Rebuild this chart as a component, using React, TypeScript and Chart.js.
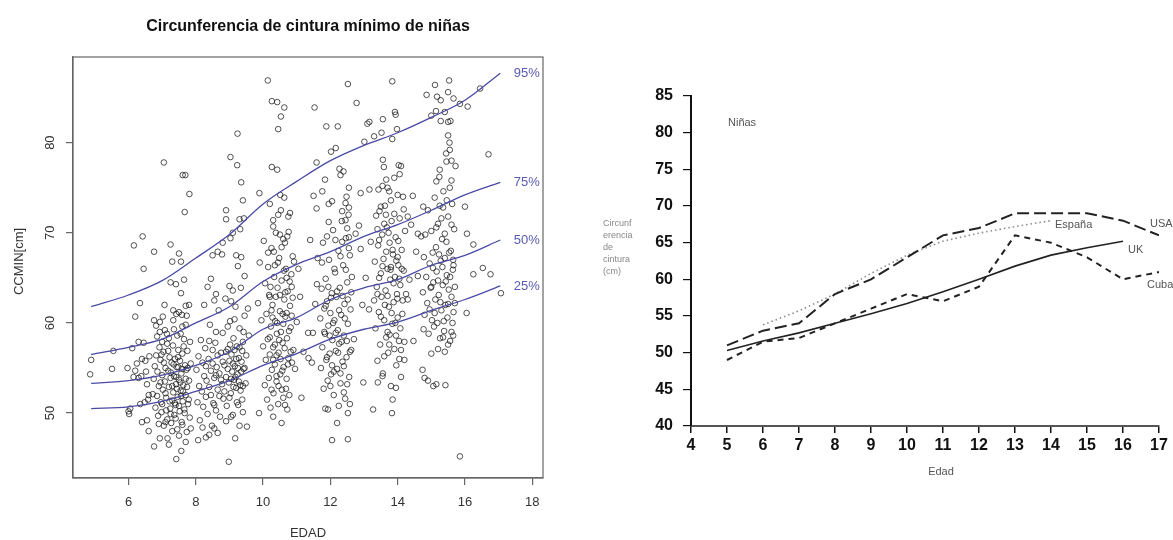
import React, { useEffect, useRef } from "react";
import { Chart, registerables } from "chart.js";

Chart.register(...registerables);

const FONT = '"Liberation Sans", Arial, Helvetica, sans-serif';

// ---------------- Left chart data ----------------
const leftTitle = "Circunferencia de cintura mínimo de niñas";
const leftXLabel = "EDAD";
const leftYLabel = "CCMIN[cm]";
const leftYTicks = [50, 60, 70, 80];

const curveAges = [4.89, 6, 7, 8, 9, 10, 11, 12, 13, 14, 15, 16, 17.05];
const p95 = [61.8, 63.1, 64.7, 67.2, 69.8, 73.2, 75.7, 78.0, 79.7, 81.1, 82.8, 84.7, 87.7];
const p75 = [56.5, 57.3, 58.2, 60.0, 61.8, 64.6, 66.5, 67.9, 69.6, 70.9, 72.5, 74.2, 75.6];
const p50 = [53.3, 53.6, 54.2, 55.3, 56.8, 59.3, 60.6, 62.6, 63.9, 64.8, 66.4, 67.5, 69.2];
const p25 = [50.5, 50.7, 51.3, 52.4, 53.6, 55.3, 56.6, 58.2, 59.3, 60.1, 61.4, 62.6, 64.1];
const percentileNames = ["95%", "75%", "50%", "25%"];

const ptsAge6 = [
  [4.89, 55.9], [4.86, 54.3], [5.51, 54.9], [5.55, 56.9], [5.97, 55.0], [6.0, 50.2], [6.02, 49.9], [6.05, 50.5],
  [6.11, 57.2], [6.16, 68.6], [6.2, 60.7], [6.34, 62.2], [6.42, 69.6], [6.45, 66.0], [6.2, 54.7], [6.25, 55.5],
  [6.3, 53.9], [6.38, 54.1], [6.4, 56.0], [6.45, 57.8], [6.5, 55.8], [6.55, 53.2], [6.6, 52.0], [6.48, 51.2],
  [6.35, 51.0], [6.4, 49.0], [6.55, 49.2], [6.6, 48.0], [6.3, 57.9], [6.58, 51.5], [6.52, 54.6], [6.62, 56.3],
  [6.15, 54.0],
];

const ptsAge7 = [
  [6.72, 52.1], [6.75, 53.8], [6.78, 55.2], [6.8, 50.6], [6.82, 56.4], [6.85, 51.9], [6.86, 54.6], [6.88, 49.7],
  [6.9, 53.0], [6.92, 57.3], [6.95, 55.9], [6.96, 51.2], [6.98, 50.1], [7.0, 54.2], [7.02, 52.6], [7.04, 56.8],
  [7.05, 48.6], [7.08, 53.5], [7.1, 55.0], [7.12, 51.7], [7.14, 58.8], [7.15, 49.3], [7.18, 54.7], [7.2, 52.9],
  [7.22, 56.2], [7.24, 50.5], [7.25, 53.9], [7.27, 48.9], [7.28, 55.6], [7.3, 51.4], [7.32, 57.5], [7.33, 52.3],
  [7.35, 54.1], [7.36, 49.8], [7.38, 56.0], [7.4, 50.9], [7.41, 53.2], [7.43, 55.1], [7.45, 48.2], [7.46, 51.8],
  [7.48, 57.0], [7.5, 53.7], [7.52, 50.2], [7.53, 55.8], [7.55, 52.5], [7.57, 54.4], [7.58, 49.0], [7.6, 56.6],
  [7.61, 51.3], [7.63, 53.1], [7.65, 58.2], [7.66, 50.4], [7.68, 55.3], [7.7, 52.0], [7.72, 54.8], [7.73, 47.9],
  [7.75, 56.9], [7.77, 51.0], [7.8, 53.6], [7.82, 49.5], [7.85, 55.5],
  [6.95, 53.4], [7.0, 51.0], [7.05, 55.6], [7.1, 52.2], [7.12, 50.3], [7.18, 56.9], [7.22, 51.3], [7.26, 54.5],
  [7.3, 53.0], [7.34, 55.4], [7.38, 51.1], [7.42, 54.0], [7.44, 52.7], [7.47, 56.2], [7.5, 50.8], [7.54, 53.4],
  [7.56, 51.9], [7.6, 54.9], [7.62, 52.4], [7.64, 57.4], [7.67, 50.0], [7.7, 53.8], [7.74, 52.9], [7.76, 55.0],
  [7.79, 51.5], [7.83, 57.9], [7.35, 59.3], [7.55, 58.8], [7.15, 57.7], [7.7, 59.8], [7.0, 57.9], [7.4, 49.4],
  [7.6, 48.7], [7.25, 49.9], [6.98, 56.5], [7.48, 55.1],
  [6.76, 60.3], [6.82, 59.7], [6.93, 60.1], [7.02, 60.7], [7.07, 62.0], [6.93, 59.0], [7.08, 59.2], [7.33, 61.4],
  [7.42, 61.0], [7.5, 61.2], [7.59, 60.9], [7.73, 60.8], [7.33, 60.3], [7.25, 64.5], [7.41, 64.3], [7.56, 63.3],
  [7.7, 61.9], [7.25, 68.7], [7.3, 66.8], [7.5, 67.7], [7.56, 66.8], [6.76, 67.9], [7.05, 77.8], [7.61, 76.4],
  [7.69, 76.4], [7.67, 72.3], [7.81, 74.3], [7.2, 58.3], [7.6, 59.6], [7.45, 58.6], [7.8, 62.0], [6.85, 58.5],
  [7.65, 64.8],
  [6.76, 46.3], [6.93, 47.2], [7.16, 47.2], [7.42, 44.9], [7.57, 45.8], [7.1, 49.0], [7.3, 48.0], [7.5, 47.5],
  [7.7, 46.8], [7.85, 48.3], [6.9, 48.8], [7.2, 46.5],
];

const ptsAge9 = [
  [8.02, 54.8], [8.05, 51.2], [8.08, 56.3], [8.1, 53.0], [8.12, 49.2], [8.15, 58.1], [8.18, 52.4], [8.2, 55.6],
  [8.22, 50.7], [8.25, 54.1], [8.28, 57.2], [8.3, 51.8], [8.32, 53.6], [8.35, 49.9], [8.38, 56.0], [8.4, 52.9],
  [8.42, 59.8], [8.45, 54.7], [8.48, 48.6], [8.5, 55.5], [8.52, 51.1], [8.55, 53.9], [8.58, 57.8], [8.6, 50.3],
  [8.62, 55.1], [8.65, 52.6], [8.68, 61.4], [8.7, 54.4], [8.72, 49.6], [8.75, 56.7], [8.78, 53.2], [8.8, 58.9],
  [8.82, 51.6], [8.85, 55.3], [8.88, 62.7], [8.9, 54.0], [8.92, 50.8], [8.95, 57.1], [8.98, 53.4], [9.0, 55.8],
  [9.02, 60.2], [9.04, 52.2], [9.06, 56.5], [9.08, 54.6], [9.1, 49.8], [9.12, 58.3], [9.14, 53.7], [9.16, 55.2],
  [9.18, 61.8], [9.2, 52.8], [9.22, 57.4], [9.24, 54.3], [9.26, 50.9], [9.28, 56.1], [9.3, 59.4], [9.32, 53.1],
  [9.34, 63.9], [9.36, 55.7], [9.38, 51.5], [9.4, 57.9], [9.42, 54.9], [9.45, 60.8], [9.48, 53.3], [9.5, 56.4],
  [9.55, 61.6], [9.58, 58.6],
  [8.45, 52.0], [8.5, 57.0], [8.55, 50.9], [8.6, 54.2], [8.65, 56.4], [8.7, 51.9], [8.75, 53.7], [8.8, 55.7],
  [8.85, 52.4], [8.9, 56.8], [8.95, 54.9], [9.0, 51.7], [9.02, 57.6], [9.05, 53.8], [9.1, 55.5], [9.12, 52.9],
  [9.15, 57.0], [9.18, 54.0], [9.2, 56.0], [9.22, 51.2], [9.25, 55.0], [9.28, 53.5], [9.3, 57.3], [9.33, 52.5],
  [9.35, 54.6], [9.38, 56.9], [9.4, 53.0], [9.42, 59.0], [8.4, 58.0], [8.6, 59.0], [8.95, 59.6], [9.15, 60.4],
  [8.3, 55.2], [9.45, 55.0],
  [8.9, 72.5], [8.9, 71.5], [9.3, 71.5], [9.43, 71.6], [9.32, 70.4], [9.1, 70.0], [9.03, 69.4], [8.8, 68.9],
  [9.03, 78.4], [9.23, 77.5], [9.24, 81.0], [9.35, 75.6], [9.4, 73.6], [8.5, 67.5], [8.65, 67.9], [8.78, 67.6],
  [9.2, 67.5], [9.35, 67.3], [8.35, 64.0], [8.45, 64.9], [8.6, 63.2], [9.0, 64.1], [9.1, 63.6], [9.25, 66.3],
  [9.45, 65.2], [8.25, 62.0], [8.55, 62.5], [9.05, 62.4],
  [8.98, 44.6], [9.17, 47.2], [9.52, 48.5], [8.07, 47.0], [8.3, 47.3], [8.4, 47.6], [8.55, 48.3], [8.65, 47.8],
  [8.9, 49.1], [9.05, 49.6], [9.3, 48.6], [9.4, 50.1], [8.2, 48.4],
];

const ptsAge10 = [
  [9.85, 62.2], [9.88, 50.0], [9.9, 66.7], [9.95, 60.3], [10.0, 57.4], [10.02, 69.1], [10.05, 53.1], [10.06, 64.4],
  [10.08, 55.9], [10.1, 61.0], [10.12, 51.5], [10.14, 58.2], [10.15, 66.2], [10.17, 53.9], [10.18, 63.1], [10.2, 56.5],
  [10.22, 50.6], [10.23, 59.6], [10.25, 68.3], [10.26, 54.8], [10.28, 62.0], [10.3, 57.3], [10.31, 52.2], [10.33, 65.1],
  [10.35, 55.4], [10.36, 60.2], [10.38, 70.0], [10.4, 53.5], [10.41, 58.8], [10.43, 63.9], [10.45, 51.0], [10.46, 56.7],
  [10.48, 67.2], [10.5, 61.3], [10.51, 54.3], [10.53, 59.0], [10.55, 64.7], [10.56, 52.6], [10.58, 57.8], [10.6, 69.3],
  [10.61, 55.1], [10.63, 62.6], [10.65, 50.9], [10.66, 60.7], [10.68, 66.0], [10.7, 53.8], [10.71, 58.3], [10.73, 63.5],
  [10.75, 56.1], [10.76, 70.1], [10.78, 52.0], [10.8, 61.9], [10.82, 59.5], [10.84, 65.4], [10.86, 55.6], [10.88, 62.8],
  [10.9, 57.0], [10.92, 66.8], [10.95, 54.9], [11.0, 60.1], [10.3, 49.6], [10.55, 48.9], [10.72, 50.4], [10.15, 67.8],
  [10.45, 72.0], [10.65, 68.9], [10.35, 66.4], [10.85, 64.0], [10.2, 62.9], [10.58, 61.0],
  [10.2, 58.4], [10.22, 64.0], [10.25, 52.6], [10.28, 60.6], [10.3, 55.9], [10.32, 67.9], [10.35, 57.6], [10.38, 62.9],
  [10.4, 54.1], [10.42, 60.0], [10.44, 66.7], [10.46, 53.0], [10.48, 58.1], [10.5, 63.1], [10.52, 56.0], [10.55, 68.4],
  [10.57, 54.7], [10.6, 59.9], [10.62, 65.8], [10.64, 57.2], [10.66, 63.4], [10.68, 52.7], [10.7, 61.1], [10.72, 69.6],
  [10.74, 55.4], [10.77, 59.1], [10.79, 64.6], [10.82, 56.8], [10.85, 60.8], [10.88, 67.4], [10.3, 70.7], [10.5, 69.8],
  [10.6, 51.7], [10.4, 56.4], [10.7, 65.0], [10.25, 61.4],
  [10.14, 86.9], [10.26, 84.6], [10.42, 84.5], [10.63, 83.9], [10.53, 82.9], [10.45, 81.5], [10.26, 77.3], [10.42, 77.0],
  [9.89, 74.4], [10.51, 74.2], [10.63, 73.9], [10.53, 72.5], [10.8, 72.2], [10.2, 73.2], [10.3, 71.4], [10.75, 71.8],
  [11.14, 51.7], [11.34, 58.9], [11.48, 58.9], [11.1, 62.9], [11.2, 56.8], [11.05, 66.0],
];

const ptsAge12 = [
  [11.7, 60.5], [11.72, 55.0], [11.74, 63.8], [11.76, 57.3], [11.78, 68.9], [11.8, 52.7], [11.82, 61.6], [11.84, 58.8],
  [11.86, 64.9], [11.88, 55.9], [11.9, 62.4], [11.92, 53.6], [11.94, 59.7], [11.96, 67.0], [11.98, 56.6], [12.0, 61.1],
  [12.02, 54.3], [12.04, 63.3], [12.06, 58.1], [12.08, 70.3], [12.1, 52.0], [12.12, 60.3], [12.14, 65.6], [12.16, 56.9],
  [12.18, 62.9], [12.2, 54.9], [12.22, 59.2], [12.24, 68.0], [12.26, 57.7], [12.28, 63.9], [12.3, 53.3], [12.32, 60.9],
  [12.34, 71.3], [12.36, 55.7], [12.38, 66.4], [12.4, 58.6], [12.42, 62.1], [12.44, 51.6], [12.46, 69.4], [12.48, 56.2],
  [12.5, 64.5], [12.52, 59.9], [12.54, 72.0], [12.56, 54.0], [12.58, 67.5], [12.6, 61.5], [12.62, 57.0], [12.64, 65.1],
  [12.5, 70.5], [12.45, 73.3], [12.35, 72.4], [12.55, 68.3], [12.15, 69.2], [11.95, 71.2], [12.05, 73.5], [11.75, 66.7],
  [12.25, 50.8], [12.4, 52.3], [12.58, 51.0], [11.85, 50.5],
  [11.82, 59.0], [11.86, 61.9], [11.9, 56.2], [11.94, 64.0], [11.98, 58.6], [12.02, 62.8], [12.05, 55.3], [12.08, 60.0],
  [12.12, 66.0], [12.16, 58.9], [12.2, 63.5], [12.23, 56.7], [12.26, 61.4], [12.3, 67.4], [12.33, 57.9], [12.36, 63.0],
  [12.4, 55.2], [12.43, 60.5], [12.46, 65.9], [12.49, 58.0], [12.52, 62.6], [12.55, 69.5], [12.58, 56.8], [12.62, 63.4],
  [12.0, 53.0], [12.1, 54.6], [12.3, 54.4], [12.5, 53.2], [12.45, 71.4], [12.55, 72.8], [12.35, 69.0], [11.9, 69.6],
  [11.53, 83.9], [11.88, 81.8], [12.22, 81.8], [12.02, 79.0], [12.16, 79.4], [12.52, 86.5], [12.78, 84.4], [11.59, 77.8],
  [11.5, 74.1], [11.59, 72.7], [11.76, 74.6], [11.84, 75.9], [11.95, 73.2], [12.27, 77.1], [12.39, 76.8], [12.3, 76.4],
  [12.55, 75.0], [12.48, 74.0],
  [12.05, 47.0], [12.52, 47.1], [12.52, 50.0], [11.93, 50.4], [12.2, 48.9], [11.45, 55.6], [11.35, 56.1], [11.55, 62.1],
  [11.6, 64.3], [11.4, 69.2], [11.62, 67.2], [12.75, 69.9], [12.85, 70.8], [12.9, 68.2], [12.95, 62.0], [12.7, 58.2],
];

const ptsAge14 = [
  [13.3, 62.5], [13.32, 66.8], [13.34, 59.4], [13.36, 71.9], [13.38, 64.0], [13.4, 55.8], [13.42, 68.6], [13.44, 61.2],
  [13.46, 72.4], [13.48, 57.6], [13.5, 65.5], [13.52, 62.9], [13.54, 69.8], [13.56, 54.4], [13.58, 67.1], [13.6, 60.3],
  [13.62, 73.0], [13.64, 63.6], [13.66, 58.4], [13.68, 70.6], [13.7, 66.0], [13.72, 56.7], [13.74, 61.8], [13.76, 68.9],
  [13.78, 64.8], [13.8, 53.0], [13.82, 71.3], [13.84, 59.9], [13.86, 67.6], [13.88, 62.3], [13.9, 57.1], [13.92, 65.1],
  [13.94, 69.5], [13.96, 55.3], [13.98, 63.2], [14.0, 60.6], [14.02, 66.4], [14.04, 58.0], [14.06, 71.6], [14.08, 64.2],
  [14.1, 54.0], [14.12, 68.1], [14.14, 61.0], [14.16, 74.0], [14.18, 65.8], [14.2, 57.9], [14.22, 70.2], [13.85, 51.5],
  [13.95, 52.8], [14.05, 56.0], [13.7, 59.0], [13.75, 74.6], [13.55, 75.2], [13.65, 72.0], [13.45, 65.0], [14.25, 63.2],
  [13.9, 76.1], [14.1, 77.4], [13.8, 66.2], [14.0, 67.3],
  [13.4, 63.2], [13.45, 69.2], [13.5, 60.7], [13.55, 66.3], [13.6, 71.0], [13.62, 62.0], [13.66, 67.9], [13.7, 63.0],
  [13.73, 70.0], [13.76, 58.7], [13.79, 65.9], [13.82, 61.1], [13.85, 68.1], [13.88, 64.4], [13.9, 72.1], [13.93, 60.0],
  [13.96, 66.9], [13.99, 62.7], [14.02, 69.1], [14.05, 64.9], [14.08, 59.4], [14.12, 66.0], [14.15, 62.5], [14.18, 72.6],
  [13.6, 56.3], [13.75, 57.6], [13.95, 58.6], [14.1, 57.0], [13.5, 72.9], [13.8, 73.6], [13.4, 70.4], [14.0, 74.2],
  [13.01, 80.1], [13.1, 82.1], [13.16, 82.3], [13.3, 80.7], [13.52, 81.1], [13.56, 82.6], [13.84, 86.8], [13.84, 80.4],
  [13.92, 83.4], [13.94, 83.1], [13.98, 81.5], [14.03, 77.5], [14.06, 76.5], [12.9, 74.4], [13.16, 74.8], [13.43, 74.8],
  [13.56, 78.1], [13.59, 77.3], [13.66, 75.9], [13.7, 75.0],
  [12.98, 53.4], [13.41, 53.4], [13.27, 50.4], [13.83, 50.0], [13.55, 54.1], [14.2, 55.9], [14.47, 58.0], [14.3, 62.6],
  [14.35, 64.8], [13.15, 61.5], [13.05, 65.0], [13.2, 69.0], [14.45, 74.1], [14.4, 70.9], [14.3, 71.8], [14.55, 67.9],
  [14.6, 65.2],
];

const ptsAge15 = [
  [14.75, 63.4], [14.78, 67.3], [14.8, 60.9], [14.82, 69.8], [14.85, 65.1], [14.88, 62.2], [14.9, 72.5], [14.92, 58.8],
  [14.95, 66.6], [14.98, 63.9], [15.0, 70.2], [15.02, 60.3], [15.04, 67.8], [15.06, 64.5], [15.08, 59.6], [15.1, 73.9],
  [15.12, 62.6], [15.14, 68.4], [15.16, 65.7], [15.18, 60.0], [15.2, 71.0], [15.22, 63.1], [15.24, 76.2], [15.26, 58.3],
  [15.28, 66.9], [15.3, 61.4], [15.32, 69.3], [15.34, 64.2], [15.36, 74.6], [15.38, 59.1], [15.4, 67.2], [15.42, 62.0],
  [15.44, 78.8], [15.46, 65.3], [15.48, 60.6], [15.5, 71.8], [15.52, 63.7], [15.54, 80.0], [15.56, 58.0], [15.58, 68.0],
  [15.6, 62.9], [15.62, 73.2], [15.64, 65.9], [15.66, 61.2], [15.68, 70.4], [15.7, 64.0], [15.72, 77.4], [15.55, 79.2],
  [15.6, 75.8], [15.5, 82.3], [15.45, 69.0], [15.65, 67.0], [15.35, 72.8], [15.15, 75.7], [15.25, 77.0],
  [15.05, 66.1], [15.1, 61.1], [15.15, 70.6], [15.2, 64.7], [15.23, 67.6], [15.27, 62.3], [15.3, 71.6], [15.33, 66.2],
  [15.37, 60.2], [15.4, 69.9], [15.43, 64.6], [15.46, 73.6], [15.5, 62.1], [15.53, 67.8], [15.56, 65.1], [15.6, 70.9],
  [15.63, 60.0], [15.66, 66.4], [15.7, 62.2], [15.55, 75.0], [15.45, 77.9], [15.6, 78.0], [15.5, 80.8], [15.0, 64.0],
  [14.95, 61.5], [15.25, 73.0], [15.6, 59.0], [15.35, 58.4],
  [14.86, 85.3], [15.11, 86.4], [15.17, 85.1], [15.28, 84.7], [15.53, 86.9], [15.5, 85.6], [15.66, 84.9], [15.85, 84.3],
  [16.08, 84.0], [16.45, 86.0], [15.0, 83.0], [15.14, 83.5], [15.28, 82.4], [15.4, 83.4], [15.57, 82.4], [16.7, 78.7],
  [16.0, 72.9], [16.06, 69.9], [16.25, 68.7], [16.25, 65.4], [16.53, 66.1], [16.76, 65.4], [17.07, 63.3], [16.05, 61.1],
  [15.85, 45.2], [14.76, 72.9], [14.7, 69.6], [14.6, 69.9],
  [14.74, 54.8], [14.8, 53.9], [14.9, 53.6], [15.06, 53.0], [15.15, 53.2], [15.42, 53.1], [15.0, 56.6], [15.4, 56.8],
  [14.77, 59.3], [15.5, 57.6], [15.2, 57.1], [15.65, 58.6],
];

// ---------------- Right chart data ----------------
const rightGroupLabel = "Niñas";
const rightXLabel = "Edad";
const rightYLabelLines = ["Circunf", "erencia", "de", "cintura", "(cm)"];
const rightAges = [5, 6, 7, 8, 9, 10, 11, 12, 13, 14, 15, 16, 17];
const usa = [51, 53, 54, 58, 60, 63, 66, 67, 69, 69, 69, 68, 66];
const espana = [null, 53.8, 55.7, 58.0, 60.8, 63.3, 65.2, 66.3, 67.2, 68.0, null, null, null];
const uk = [50.3, 51.6, 52.7, 54.0, 55.3, 56.7, 58.3, 60.0, 61.8, 63.3, 64.3, 65.2, null];
const cuba = [49, 51.5, 52, 54, 56, 58, 57, 59, 66, 65, 63, 60, 61];
const seriesNames = ["USA", "España", "UK", "Cuba"];

const toXY = (arr: (number | null)[]) =>
  rightAges.map((a, i) => ({ x: a, y: arr[i] })).filter((p) => p.y !== null);

const pairsToXY = (arr: number[][]) => arr.map(([x, y]) => ({ x, y }));

export default function App() {
  const leftRef = useRef<HTMLCanvasElement>(null);
  const rightRef = useRef<HTMLCanvasElement>(null);

  useEffect(() => {
    const allPts = [...ptsAge6, ...ptsAge7, ...ptsAge9, ...ptsAge10, ...ptsAge12, ...ptsAge14, ...ptsAge15];
    const curveColor = "#4a4aa6";
    const curves = [p95, p75, p50, p25];

    const leftDecor = {
      id: "leftDecor",
      afterDraw(chart: any) {
        const { ctx, chartArea: a, scales } = chart;
        ctx.save();
        ctx.strokeStyle = "#666";
        ctx.lineWidth = 1.2;
        ctx.strokeRect(a.left, a.top, a.right - a.left, a.bottom - a.top);
        ctx.fillStyle = "#111";
        ctx.font = `bold 16px ${FONT}`;
        ctx.textAlign = "center";
        ctx.textBaseline = "middle";
        const cx = (a.left + a.right) / 2;
        ctx.fillText(leftTitle, cx, 27);
        ctx.fillStyle = "#333";
        ctx.font = `13px ${FONT}`;
        ctx.fillText(leftXLabel, cx, 533);
        leftYTicks.forEach((v) => {
          const y = scales.y.getPixelForValue(v);
          ctx.save();
          ctx.translate(50, y);
          ctx.rotate(-Math.PI / 2);
          ctx.fillText(String(v), 0, 0);
          ctx.restore();
        });
        ctx.save();
        ctx.translate(19, (a.top + a.bottom) / 2 - 6);
        ctx.rotate(-Math.PI / 2);
        ctx.fillText(leftYLabel, 0, 0);
        ctx.restore();
        ctx.fillStyle = "#5a5ab4";
        ctx.font = `13px ${FONT}`;
        ctx.textAlign = "left";
        curves.forEach((c, i) => {
          const x = scales.x.getPixelForValue(17.45);
          const y = scales.y.getPixelForValue(c[c.length - 1]);
          ctx.fillText(percentileNames[i], x, y);
        });
        ctx.restore();
      },
    };

    const left = new Chart(leftRef.current!, {
      type: "scatter",
      data: {
        datasets: [
          ...curves.map((c, i) => ({
            type: "line" as const,
            label: percentileNames[i],
            data: curveAges.map((x, j) => ({ x, y: c[j] })),
            borderColor: curveColor,
            borderWidth: 1.3,
            pointRadius: 0,
            cubicInterpolationMode: "monotone" as const,
            fill: false,
          })),
          {
            label: "CCMIN",
            data: pairsToXY(allPts),
            pointRadius: 2.8,
            pointHoverRadius: 2.8,
            borderWidth: 1,
            borderColor: "rgba(25,25,25,0.75)",
            backgroundColor: "rgba(0,0,0,0)",
          },
        ],
      },
      options: {
        animation: false,
        responsive: true,
        maintainAspectRatio: false,
        layout: { padding: { top: 57, right: 47, bottom: 0, left: 0 } },
        plugins: { legend: { display: false }, tooltip: { enabled: false } },
        scales: {
          x: {
            type: "linear",
            min: 4.35,
            max: 18.32,
            afterFit: (s: any) => { s.height = 62; },
            ticks: { stepSize: 2, includeBounds: false, color: "#333", font: { family: FONT, size: 13 }, padding: 10, maxRotation: 0 },
            grid: { drawOnChartArea: false, drawTicks: true, tickLength: 7, color: "#666", lineWidth: 1.2 },
            border: { display: true, color: "#666", width: 1.2 },
          },
          y: {
            type: "linear",
            min: 42.8,
            max: 89.5,
            afterFit: (s: any) => { s.width = 73; },
            ticks: { stepSize: 10, includeBounds: false, display: false },
            grid: { drawOnChartArea: false, drawTicks: true, tickLength: 7, color: "#666", lineWidth: 1.2 },
            border: { display: true, color: "#666", width: 1.2 },
          },
        },
      },
      plugins: [leftDecor],
    } as any);

    const rightDecor = {
      id: "rightDecor",
      afterDraw(chart: any) {
        const { ctx } = chart;
        ctx.save();
        ctx.fillStyle = "#555";
        ctx.font = `11px ${FONT}`;
        ctx.textBaseline = "middle";
        ctx.textAlign = "left";
        ctx.fillText(rightGroupLabel, 138, 123);
        ctx.fillText(seriesNames[1], 465, 225);
        ctx.fillText(seriesNames[0], 560, 224);
        ctx.fillText(seriesNames[2], 538, 250);
        ctx.fillText(seriesNames[3], 557, 285);
        ctx.textAlign = "center";
        ctx.fillText(rightXLabel, 351, 472);
        ctx.textAlign = "left";
        ctx.fillStyle = "#888";
        ctx.font = `9px ${FONT}`;
        rightYLabelLines.forEach((t, i) => ctx.fillText(t, 13, 224 + i * 12));
        ctx.restore();
      },
    };

    const right = new Chart(rightRef.current!, {
      type: "line",
      data: {
        datasets: [
          { label: "USA", data: toXY(usa), borderColor: "#222", borderWidth: 2, borderDash: [12, 5], pointRadius: 0, tension: 0 },
          { label: "España", data: toXY(espana), borderColor: "#8a8a8a", borderWidth: 1.6, borderDash: [1.5, 3], pointRadius: 0, tension: 0 },
          { label: "UK", data: toXY(uk), borderColor: "#222", borderWidth: 1.6, pointRadius: 0, tension: 0 },
          { label: "Cuba", data: toXY(cuba), borderColor: "#222", borderWidth: 2, borderDash: [6, 5], pointRadius: 0, tension: 0 },
        ],
      },
      options: {
        animation: false,
        responsive: true,
        maintainAspectRatio: false,
        layout: { padding: { top: 96, right: 14, bottom: 0, left: 0 } },
        plugins: { legend: { display: false }, tooltip: { enabled: false } },
        scales: {
          x: {
            type: "linear",
            min: 4,
            max: 17,
            afterFit: (s: any) => { s.height = 114; },
            ticks: { stepSize: 1, color: "#111", font: { family: FONT, size: 16, weight: "bold" }, padding: 3, maxRotation: 0, autoSkip: false },
            grid: { drawOnChartArea: false, drawTicks: true, tickLength: 7, color: "#111", lineWidth: 1.5 },
            border: { display: true, color: "#555", width: 2 },
          },
          y: {
            type: "linear",
            min: 40,
            max: 85,
            afterFit: (s: any) => { s.width = 101; },
            ticks: { stepSize: 5, color: "#111", font: { family: FONT, size: 16, weight: "bold" }, padding: 10 },
            grid: { drawOnChartArea: false, drawTicks: true, tickLength: 8, color: "#111", lineWidth: 1.2 },
            border: { display: true, color: "#111", width: 2 },
          },
        },
      },
      plugins: [rightDecor],
    } as any);

    return () => {
      left.destroy();
      right.destroy();
    };
  }, []);

  return (
    <div style={{ position: "absolute", left: 0, top: 0, width: 1173, height: 540, background: "#fff" }}>
      <div style={{ position: "absolute", left: 0, top: 0, width: 590, height: 540 }}>
        <canvas ref={leftRef} />
      </div>
      <div style={{ position: "absolute", left: 590, top: 0, width: 583, height: 540 }}>
        <canvas ref={rightRef} />
      </div>
    </div>
  );
}
